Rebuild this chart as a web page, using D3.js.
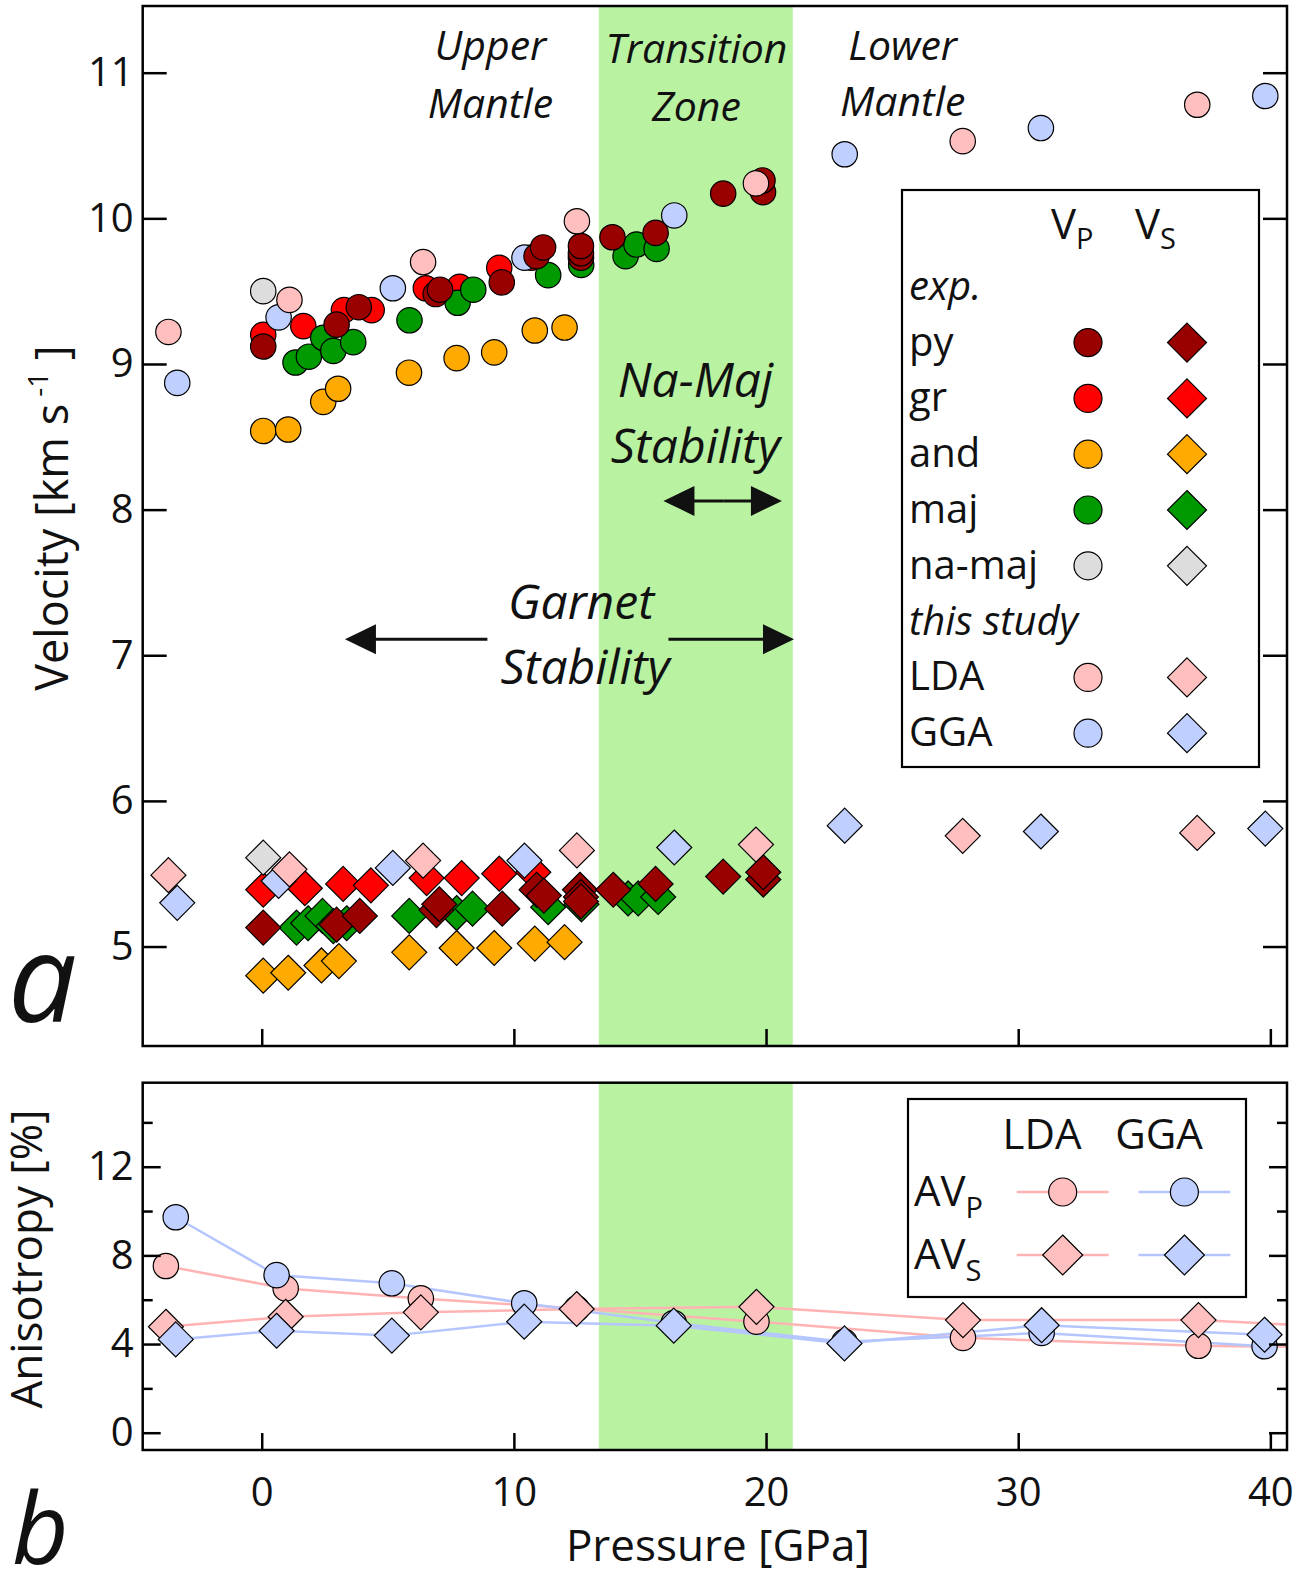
<!DOCTYPE html>
<html>
<head>
<meta charset="utf-8">
<script src="https://cdn.jsdelivr.net/npm/d3@7"></script>
<style>
  body { margin: 0; background: #fff; }
  svg text { font-family: "Open Sans", sans-serif; fill: #111; }
</style>
</head>
<body>
<div id="chart"></div>
<script>
// ---------------- data (pressure GPa, velocity km/s) ----------------
var pyVP = [[0.06,9.12],[2.97,9.27],[3.85,9.39],[6.9,9.48],[7.07,9.51],[9.52,9.56],[10.9,9.74],[11.16,9.8],
  [12.66,9.73],[12.66,9.76],[12.66,9.81],[13.91,9.87],[15.62,9.9],[18.3,10.17],[19.88,10.18],[19.86,10.26]];
var pyVS = [[0.06,5.13],[2.97,5.15],[3.89,5.21],[6.93,5.25],[7.04,5.29],[9.54,5.26],[10.9,5.39],[11.19,5.35],
  [12.62,5.39],[12.66,5.34],[12.66,5.31],[13.94,5.39],[15.62,5.43],[18.3,5.48],[19.89,5.46],[19.89,5.51]];

var grVP = [[0.06,9.2],[1.65,9.26],[3.26,9.37],[4.36,9.37],[6.51,9.52],[7.85,9.53],[9.42,9.66],[10.7,9.73]];
var grVS = [[0.06,5.39],[1.71,5.4],[3.23,5.43],[4.33,5.42],[6.54,5.47],[7.93,5.47],[9.42,5.5],[10.77,5.51]];

var andVP = [[0.06,8.54],[1.05,8.55],[2.44,8.74],[3.03,8.83],[5.84,8.94],[7.73,9.04],[9.22,9.08],[10.83,9.23],[12.01,9.25]];
var andVS = [[0.06,4.8],[1.05,4.82],[2.37,4.87],[3.06,4.9],[5.85,4.96],[7.73,4.99],[9.22,4.99],[10.83,5.02],[12.01,5.03]];

var majVP = [[1.34,9.01],[1.87,9.05],[2.44,9.18],[2.84,9.09],[3.63,9.15],[5.86,9.3],[7.77,9.42],[8.39,9.51],
  [11.36,9.61],[12.67,9.68],[14.43,9.74],[14.86,9.82],[15.66,9.79]];
var majVS = [[1.38,5.13],[1.84,5.16],[2.41,5.21],[2.84,5.14],[3.37,5.16],[5.85,5.21],[7.73,5.23],[8.36,5.26],
  [11.36,5.27],[12.68,5.29],[14.53,5.33],[14.93,5.33],[15.72,5.34]];

var namajVP = [[0.06,9.5]];
var namajVS = [[0.06,5.61]];

// this study
var ldaP  = [-3.7, 1.1, 6.4, 12.5, 19.6, 27.8, 37.1];
var ldaVP = [9.22, 9.44, 9.7, 9.98, 10.24, 10.53, 10.78];
var ldaVS = [5.49, 5.53, 5.59, 5.66, 5.7, 5.76, 5.78];
var ggaP  = [-3.35, 0.67, 5.2, 10.42, 16.36, 23.12, 30.9, 39.8];
var ggaVP = [8.87, 9.32, 9.52, 9.73, 10.02, 10.44, 10.62, 10.84];
var ggaVS = [5.3, 5.45, 5.54, 5.59, 5.68, 5.83, 5.79, 5.81];

// anisotropy (%) - LDA has one more point past the right edge
var ldaAnisoP = [-3.8, 0.95, 6.31, 12.49, 19.62, 27.81, 37.15, 46.5];
var ldaAVP = [7.52, 6.51, 6.06, 5.6, 5.01, 4.28, 3.92, 3.8];
var ldaAVS = [4.78, 5.23, 5.43, 5.58, 5.68, 5.08, 5.08, 4.55];
var ggaAnisoP = [-3.41, 0.59, 5.16, 10.41, 16.34, 23.11, 30.93, 39.77];
var ggaAVP = [9.72, 7.11, 6.74, 5.84, 4.95, 4.1, 4.5, 3.9];
var ggaAVS = [4.21, 4.6, 4.38, 5.01, 4.83, 4.03, 4.85, 4.42];

var transitionZone = [13.37, 21.06];
var velTicks = [5, 6, 7, 8, 9, 10, 11];
var anisoTicks = [0, 4, 8, 12];
var anisoMinor = [2, 6, 10, 14];
var pressTicks = [0, 10, 20, 30, 40];

// ---------------- layout ----------------
var svgWidth = 1307;
var svgHeight = 1577;
var left = 142.7, right = 1287;
var topA = 6, bottomA = 1046;     // panel a
var topB = 1082.7, bottomB = 1450; // panel b

var svg = d3.select("#chart").append("svg")
  .attr("width", svgWidth)
  .attr("height", svgHeight);

var x = d3.scaleLinear().domain([-4.72, 40.66]).range([left, right]);
var yA = d3.scaleLinear().domain([4.317, 11.458]).range([bottomA, topA]);
var yB = d3.scaleLinear().domain([-0.78, 15.79]).range([bottomB, topB]);

var colors = {
  py: "#990000", gr: "#ff0000", and: "#ffaa00", maj: "#009900", namaj: "#dddddd",
  lda: "#ffbfbf", gga: "#bfcfff", ldaLine: "#ffb3b3", ggaLine: "#b5c6ff", band: "#b9f2a1"
};

function diamond(h) {
  return "M0," + (-h) + "L" + h + ",0L0," + h + "L" + (-h) + ",0Z";
}

// clip paths
var defs = svg.append("defs");
defs.append("clipPath").attr("id", "clipA").append("rect")
  .attr("x", left).attr("y", topA).attr("width", right - left).attr("height", bottomA - topA);
defs.append("clipPath").attr("id", "clipB").append("rect")
  .attr("x", left).attr("y", topB).attr("width", right - left).attr("height", bottomB - topB);

// transition zone band in both panels
[[topA, bottomA], [topB, bottomB]].forEach(function(p) {
  svg.append("rect")
    .attr("x", x(transitionZone[0]))
    .attr("y", p[0])
    .attr("width", x(transitionZone[1]) - x(transitionZone[0]))
    .attr("height", p[1] - p[0])
    .attr("fill", colors.band);
});

//////////////////////////////////////////////////////////////////////
// panel a : velocities
var gA = svg.append("g").attr("clip-path", "url(#clipA)");

var seriesA = [
  { vp: andVP, vs: andVS, fill: colors.and },
  { vp: grVP, vs: grVS, fill: colors.gr },
  { vp: majVP, vs: majVS, fill: colors.maj },
  { vp: d3.zip(ggaP, ggaVP), vs: d3.zip(ggaP, ggaVS), fill: colors.gga },
  { vp: pyVP, vs: pyVS, fill: colors.py },
  { vp: d3.zip(ldaP, ldaVP), vs: d3.zip(ldaP, ldaVS), fill: colors.lda },
  { vp: namajVP, vs: namajVS, fill: colors.namaj }
];

seriesA.forEach(function(s) {
  gA.selectAll(null).data(s.vs).enter().append("path")
    .attr("d", diamond(17.5))
    .attr("transform", d => `translate(${x(d[0])},${yA(d[1])})`)
    .attr("fill", s.fill)
    .attr("stroke", "#000")
    .attr("stroke-width", 1.2);
});
seriesA.forEach(function(s) {
  gA.selectAll(null).data(s.vp).enter().append("circle")
    .attr("cx", d => x(d[0]))
    .attr("cy", d => yA(d[1]))
    .attr("r", 12.7)
    .attr("fill", s.fill)
    .attr("stroke", "#000")
    .attr("stroke-width", 1.2);
});

// annotations (in data units)
var annoText = [
  { t: "Upper", p: 9.07, v: 11.09, size: 41 },
  { t: "Mantle", p: 9.07, v: 10.69, size: 41 },
  { t: "Transition", p: 17.24, v: 11.07, size: 41 },
  { t: "Zone", p: 17.24, v: 10.67, size: 41 },
  { t: "Lower", p: 25.42, v: 11.09, size: 41 },
  { t: "Mantle", p: 25.42, v: 10.70, size: 41 },
  { t: "Na-Maj", p: 17.2, v: 8.77, size: 48 },
  { t: "Stability", p: 17.2, v: 8.32, size: 48 },
  { t: "Garnet", p: 12.66, v: 7.25, size: 48 },
  { t: "Stability", p: 12.82, v: 6.805, size: 48 }
];
svg.selectAll(null).data(annoText).enter().append("text")
  .attr("x", d => x(d.p))
  .attr("y", d => yA(d.v))
  .attr("text-anchor", "middle")
  .attr("font-style", "italic")
  .attr("font-size", d => d.size)
  .text(d => d.t);

// arrows [fromP, toP, v]
var arrows = [[8.95, 3.3, 7.11], [16.13, 21.11, 7.11], [18.3, 15.93, 8.06], [18.3, 20.63, 8.06]];
arrows.forEach(function(a) {
  var x0 = x(a[0]), x1 = x(a[1]), yy = yA(a[2]);
  var dir = x1 > x0 ? 1 : -1;
  var len = 31, hw = 15;
  svg.append("line")
    .attr("x1", x0).attr("x2", x1 - dir * len * 0.8)
    .attr("y1", yy).attr("y2", yy)
    .attr("stroke", "#111").attr("stroke-width", 3);
  svg.append("path")
    .attr("d", `M${x1},${yy}L${x1 - dir * len},${yy - hw}L${x1 - dir * len},${yy + hw}Z`)
    .attr("fill", "#111");
});

// legend a
var legA = svg.append("g");
legA.append("rect")
  .attr("x", 902).attr("y", 190).attr("width", 357).attr("height", 577)
  .attr("fill", "#fff").attr("stroke", "#000").attr("stroke-width", 2.2);
var rowY = d => 231 + 55.8 * d;
var hdr = legA.append("text").attr("x", 1051).attr("y", 239).attr("font-size", 42);
hdr.append("tspan").text("V");
hdr.append("tspan").attr("font-size", 29).attr("dy", 10).text("P");
var hdr2 = legA.append("text").attr("x", 1135).attr("y", 239).attr("font-size", 42);
hdr2.append("tspan").text("V");
hdr2.append("tspan").attr("font-size", 29).attr("dy", 10).text("S");

var legRows = [
  { t: "exp.", row: 1, italic: true },
  { t: "py", row: 2, fill: colors.py },
  { t: "gr", row: 3, fill: colors.gr },
  { t: "and", row: 4, fill: colors.and },
  { t: "maj", row: 5, fill: colors.maj },
  { t: "na-maj", row: 6, fill: colors.namaj },
  { t: "this study", row: 7, italic: true },
  { t: "LDA", row: 8, fill: colors.lda },
  { t: "GGA", row: 9, fill: colors.gga }
];
legRows.forEach(function(r) {
  legA.append("text")
    .attr("x", 909).attr("y", rowY(r.row) + 13)
    .attr("font-size", 40)
    .attr("font-style", r.italic ? "italic" : "normal")
    .text(r.t);
  if (r.fill) {
    legA.append("circle").attr("cx", 1088).attr("cy", rowY(r.row)).attr("r", 14)
      .attr("fill", r.fill).attr("stroke", "#000").attr("stroke-width", 1.2);
    legA.append("path").attr("d", diamond(19.5))
      .attr("transform", `translate(1187,${rowY(r.row)})`)
      .attr("fill", r.fill).attr("stroke", "#000").attr("stroke-width", 1.2);
  }
});

//////////////////////////////////////////////////////////////////////
// panel b : anisotropy
var gB = svg.append("g").attr("clip-path", "url(#clipB)");
var line = d3.line().x(d => x(d[0])).y(d => yB(d[1]));

var ldaAVPd = d3.zip(ldaAnisoP, ldaAVP), ldaAVSd = d3.zip(ldaAnisoP, ldaAVS);
var ggaAVPd = d3.zip(ggaAnisoP, ggaAVP), ggaAVSd = d3.zip(ggaAnisoP, ggaAVS);

[[ldaAVPd, colors.ldaLine], [ldaAVSd, colors.ldaLine], [ggaAVPd, colors.ggaLine], [ggaAVSd, colors.ggaLine]]
  .forEach(function(s) {
    gB.append("path").datum(s[0]).attr("d", line)
      .attr("fill", "none").attr("stroke", s[1]).attr("stroke-width", 2.5);
  });

[[ldaAVPd, colors.lda], [ggaAVPd, colors.gga]].forEach(function(s) {
  gB.selectAll(null).data(s[0]).enter().append("circle")
    .attr("cx", d => x(d[0])).attr("cy", d => yB(d[1])).attr("r", 12.7)
    .attr("fill", s[1]).attr("stroke", "#000").attr("stroke-width", 1.2);
});
[[ldaAVSd, colors.lda], [ggaAVSd, colors.gga]].forEach(function(s) {
  gB.selectAll(null).data(s[0]).enter().append("path")
    .attr("d", diamond(17.5))
    .attr("transform", d => `translate(${x(d[0])},${yB(d[1])})`)
    .attr("fill", s[1]).attr("stroke", "#000").attr("stroke-width", 1.2);
});

// legend b
var legB = svg.append("g");
legB.append("rect")
  .attr("x", 908).attr("y", 1099).attr("width", 338).attr("height", 198)
  .attr("fill", "#fff").attr("stroke", "#000").attr("stroke-width", 2.2);
legB.append("text").attr("x", 1042).attr("y", 1149).attr("text-anchor", "middle").attr("font-size", 42).text("LDA");
legB.append("text").attr("x", 1159).attr("y", 1149).attr("text-anchor", "middle").attr("font-size", 42).text("GGA");
[["P", 1192, "circle"], ["S", 1255, "diamond"]].forEach(function(r) {
  var t = legB.append("text").attr("x", 914).attr("y", r[1] + 14).attr("font-size", 42);
  t.append("tspan").text("AV");
  t.append("tspan").attr("font-size", 29).attr("dy", 12).text(r[0]);
  [[1062.7, colors.lda, colors.ldaLine], [1184.4, colors.gga, colors.ggaLine]].forEach(function(c) {
    legB.append("line").attr("x1", c[0] - 46).attr("x2", c[0] + 46)
      .attr("y1", r[1]).attr("y2", r[1]).attr("stroke", c[2]).attr("stroke-width", 2.5);
    if (r[2] == "circle") {
      legB.append("circle").attr("cx", c[0]).attr("cy", r[1]).attr("r", 14)
        .attr("fill", c[1]).attr("stroke", "#000").attr("stroke-width", 1.2);
    } else {
      legB.append("path").attr("d", diamond(20)).attr("transform", `translate(${c[0]},${r[1]})`)
        .attr("fill", c[1]).attr("stroke", "#000").attr("stroke-width", 1.2);
    }
  });
});

//////////////////////////////////////////////////////////////////////
// axes and frames
function styleAxis(g) {
  g.select(".domain").remove();
  g.selectAll(".tick line").attr("stroke", "#000").attr("stroke-width", 2.5);
  g.selectAll(".tick text").attr("font-size", 40).attr("fill", "#111")
    .attr("font-family", "Open Sans, sans-serif");
}
var noLabel = () => "";

// panel a
svg.append("g").attr("transform", `translate(${left},0)`)
  .call(d3.axisLeft(yA).tickValues(velTicks).tickSize(-24).tickPadding(9).tickFormat(d3.format("d")))
  .call(styleAxis);
svg.append("g").attr("transform", `translate(${right},0)`)
  .call(d3.axisRight(yA).tickValues(velTicks).tickSize(-24).tickFormat(noLabel))
  .call(styleAxis);
svg.append("g").attr("transform", `translate(0,${bottomA})`)
  .call(d3.axisBottom(x).tickValues(pressTicks).tickSize(-17).tickFormat(noLabel))
  .call(styleAxis);

// panel b
svg.append("g").attr("transform", `translate(${left},0)`)
  .call(d3.axisLeft(yB).tickValues(anisoTicks).tickSize(-18).tickPadding(9).tickFormat(d3.format("d")))
  .call(styleAxis);
svg.append("g").attr("transform", `translate(${left},0)`)
  .call(d3.axisLeft(yB).tickValues(anisoMinor).tickSize(-10).tickFormat(noLabel))
  .call(styleAxis);
svg.append("g").attr("transform", `translate(${right},0)`)
  .call(d3.axisRight(yB).tickValues(anisoTicks).tickSize(-18).tickFormat(noLabel))
  .call(styleAxis);
svg.append("g").attr("transform", `translate(${right},0)`)
  .call(d3.axisRight(yB).tickValues(anisoMinor).tickSize(-10).tickFormat(noLabel))
  .call(styleAxis);
svg.append("g").attr("transform", `translate(0,${bottomB})`)
  .call(d3.axisBottom(x).tickValues(pressTicks).tickSize(-17).tickPadding(28).tickFormat(d3.format("d")))
  .call(styleAxis);

// frames
[[topA, bottomA], [topB, bottomB]].forEach(function(p) {
  svg.append("rect")
    .attr("x", left).attr("y", p[0]).attr("width", right - left).attr("height", p[1] - p[0])
    .attr("fill", "none").attr("stroke", "#000").attr("stroke-width", 2.5);
});

// axis titles
svg.append("text")
  .attr("transform", `translate(${(left + right) / 2 + 3},1561)`)
  .attr("text-anchor", "middle").attr("font-size", 44)
  .text("Pressure [GPa]");

var vt = svg.append("text")
  .attr("transform", "translate(68,518) rotate(-90)")
  .attr("text-anchor", "middle").attr("font-size", 45);
vt.append("tspan").text("Velocity [km s");
vt.append("tspan").attr("font-size", 28).attr("dy", -20).text(" -1");
vt.append("tspan").attr("dy", 20).text(" ]");

svg.append("text")
  .attr("transform", "translate(42,1259) rotate(-90)")
  .attr("text-anchor", "middle").attr("font-size", 44)
  .text("Anisotropy [%]");

// panel letters
svg.append("text").attr("x", 8).attr("y", 1022).attr("font-size", 122)
  .attr("font-style", "italic").text("a");
svg.append("text").attr("x", 12).attr("y", 1564).attr("font-size", 98)
  .attr("font-style", "italic").text("b");
</script>
</body>
</html>
